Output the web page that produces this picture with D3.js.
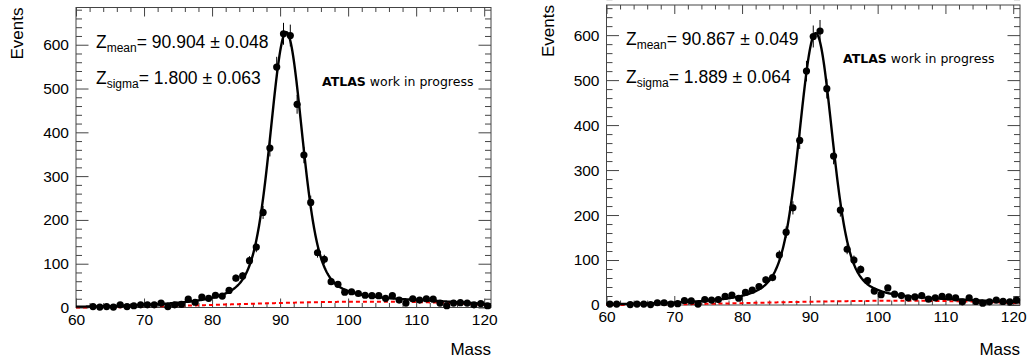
<!DOCTYPE html>
<html>
<head>
<meta charset="utf-8">
<script src="https://cdn.jsdelivr.net/npm/d3@7"></script>
<style>
  html, body { margin: 0; padding: 0; background: #fff; }
  svg { display: block; }
</style>
</head>
<body>
<script>
// Dimuon invariant mass, 1 GeV bins
const binCenters = [
  60.5, 61.5, 62.5, 63.5, 64.5, 65.5, 66.5, 67.5, 68.5, 69.5,
  70.5, 71.5, 72.5, 73.5, 74.5, 75.5, 76.5, 77.5, 78.5, 79.5,
  80.5, 81.5, 82.5, 83.5, 84.5, 85.5, 86.5, 87.5, 88.5, 89.5,
  90.5, 91.5, 92.5, 93.5, 94.5, 95.5, 96.5, 97.5, 98.5, 99.5,
  100.5, 101.5, 102.5, 103.5, 104.5, 105.5, 106.5, 107.5, 108.5, 109.5,
  110.5, 111.5, 112.5, 113.5, 114.5, 115.5, 116.5, 117.5, 118.5, 119.5,
  120.5
];

// Event counts per bin (null = empty bin, not drawn)
const eventsLeft = [
  null, null, 2, 1, 2, 1, 6, 2, 4, 6,
  6, 6, 10, 2, 6, 7, 19, 12, 24, 21,
  28, 26, 39, 67, 72, 107, 138, 217, 364, 549,
  625, 621, 464, 348, 240, 125, 110, 59, 53, 35,
  36, 32, 28, 27, 27, 21, 27, 17, 10, 20,
  17, 20, 19, 10, 4, 10, 11, 10, 6, 9,
  4
];
const eventsRight = [
  2, 2, null, 1, 2, 2, 1, 5, 5, 2,
  3, 10, 9, 2, 12, 11, 12, 19, 22, 15,
  28, 33, 41, 56, 61, 111, 162, 216, 366, 520,
  597, 609, 481, 331, 211, 124, 100, 79, 54, 31,
  23, 38, 24, 21, 16, 18, 21, 13, 16, 19,
  18, 16, 7, 16, 8, 4, 7, 11, 8, 7,
  11
];

// Axis ticks
const xTickValues = [60, 70, 80, 90, 100, 110, 120];
const xMinorValues = [62, 64, 66, 68, 72, 74, 76, 78, 82, 84, 86, 88, 92, 94, 96, 98, 102, 104, 106, 108, 112, 114, 116, 118];
const yTickValues = [0, 100, 200, 300, 400, 500, 600];
const yMinorValues = [20, 40, 60, 80, 120, 140, 160, 180, 220, 240, 260, 280, 320, 340, 360, 380, 420, 440, 460, 480, 520, 540, 560, 580, 620, 640, 660, 680];
const xDomain = [60, 121];
const yMaxValues = [685, 667];

// Fit results: Breit-Wigner (fixed Z width) convolved with a Gaussian, plus a cubic background
const fitMean = [90.904, 90.867];
const fitMeanErr = [0.048, 0.049];
const fitSigma = [1.800, 1.889];
const fitSigmaErr = [0.063, 0.064];
const zWidth = 2.4952;
const signalPeak = [618, 597];
const bkgQuad = [0.0212, 0.015];
const bkgCubic = [-0.000325, -0.00023];

// Panel frames
const panels = [
  { x0: 76, x1: 491, y0: 7.5, y1: 307.5, evX: 23, statX: 96, statY1: 47.5, statY2: 83.5, atlasX: 322, atlasY: 86 },
  { x0: 606.5, x1: 1020, y0: 5, y1: 305, evX: 554, statX: 626, statY1: 44.5, statY2: 82.5, atlasX: 843, atlasY: 63 }
];

const W = 1033, H = 364;
const svg = d3.select("body").append("svg").attr("width", W).attr("height", H);
const mainFont = "'Liberation Sans', Arial, Helvetica, sans-serif";
const axisColor = "#444";

function voigtRaw(x, mu, sigma, gamma) {
  let s = 0;
  const step = 0.02;
  for (let u = -6 * sigma; u <= 6 * sigma; u += step) {
    const d = x - mu - u;
    s += Math.exp(-u * u / (2 * sigma * sigma)) / (d * d + gamma * gamma);
  }
  return s;
}

function drawPanel(i, counts) {
  const p = panels[i];
  const x = d3.scaleLinear().domain(xDomain).range([p.x0, p.x1]);
  const y = d3.scaleLinear().domain([0, yMaxValues[i]]).range([p.y1, p.y0]);
  const g = svg.append("g");

  // axes: ticks point into the frame on all four sides
  const xMaj = 9, xMin = 4.5, yMaj = 12.5, yMin = 6;
  function addAxis(axis, tx, ty, labels) {
    const a = g.append("g").attr("transform", `translate(${tx},${ty})`).call(axis);
    a.select(".domain").remove();
    a.selectAll(".tick line").attr("stroke", axisColor);
    if (!labels) a.selectAll(".tick text").remove();
    return a;
  }
  const bx = addAxis(d3.axisBottom(x).tickValues(xTickValues).tickSize(-xMaj).tickPadding(6).tickFormat(d3.format("d")), 0, p.y1, true);
  bx.selectAll(".tick text").attr("font-family", mainFont).attr("font-size", 15.5).attr("fill", "#000");
  addAxis(d3.axisBottom(x).tickValues(xMinorValues).tickSize(-xMin).tickFormat(""), 0, p.y1, false);
  addAxis(d3.axisTop(x).tickValues(xTickValues).tickSize(-xMaj).tickFormat(""), 0, p.y0, false);
  addAxis(d3.axisTop(x).tickValues(xMinorValues).tickSize(-xMin).tickFormat(""), 0, p.y0, false);
  const ly = addAxis(d3.axisLeft(y).tickValues(yTickValues).tickSize(-yMaj).tickPadding(7).tickFormat(d3.format("d")), p.x0, 0, true);
  ly.selectAll(".tick text").attr("font-family", mainFont).attr("font-size", 15.5).attr("fill", "#000");
  addAxis(d3.axisLeft(y).tickValues(yMinorValues).tickSize(-yMin).tickFormat(""), p.x0, 0, false);
  addAxis(d3.axisRight(y).tickValues(yTickValues).tickSize(-yMaj).tickFormat(""), p.x1, 0, false);
  addAxis(d3.axisRight(y).tickValues(yMinorValues).tickSize(-yMin).tickFormat(""), p.x1, 0, false);

  // frame
  g.append("rect")
    .attr("x", p.x0).attr("y", p.y0)
    .attr("width", p.x1 - p.x0).attr("height", p.y1 - p.y0)
    .attr("fill", "none").attr("stroke", axisColor).attr("stroke-width", 1);

  // fit curves
  const gamma = zWidth / 2;
  const norm = voigtRaw(fitMean[i], fitMean[i], fitSigma[i], gamma);
  const bkg = m => { const t = m - xDomain[0]; return bkgQuad[i] * t * t + bkgCubic[i] * t * t * t; };
  const grid = d3.range(xDomain[0], xDomain[1] + 1e-9, 0.1);
  const total = grid.map(m => [m, signalPeak[i] * voigtRaw(m, fitMean[i], fitSigma[i], gamma) / norm + bkg(m)]);
  const bgPts = grid.map(m => [m, bkg(m)]);
  const line = d3.line().x(d => x(d[0])).y(d => y(d[1]));

  g.append("path").datum(bgPts).attr("d", line)
    .attr("fill", "none").attr("stroke", "#ff0000").attr("stroke-width", 2).attr("stroke-dasharray", "4,3");
  g.append("path").datum(total).attr("d", line)
    .attr("fill", "none").attr("stroke", "#000").attr("stroke-width", 2.4);

  // data points with Poisson error bars
  const pts = binCenters.map((m, k) => ({ m, n: counts[k] })).filter(d => d.n !== null);
  g.selectAll(".err").data(pts).enter().append("line")
    .attr("x1", d => x(d.m)).attr("x2", d => x(d.m))
    .attr("y1", d => y(d.n - Math.sqrt(d.n))).attr("y2", d => y(d.n + Math.sqrt(d.n)))
    .attr("stroke", "#000").attr("stroke-width", 1);
  g.selectAll(".pt").data(pts).enter().append("circle")
    .attr("cx", d => x(d.m)).attr("cy", d => y(d.n)).attr("r", 3.6).attr("fill", "#000");

  // axis titles
  g.append("text").attr("x", p.x1).attr("y", 355).attr("text-anchor", "end")
    .attr("font-family", mainFont).attr("font-size", 17).text("Mass");
  g.append("text").attr("transform", `translate(${p.evX},${p.y0}) rotate(-90)`).attr("text-anchor", "end")
    .attr("font-family", mainFont).attr("font-size", 17).text("Events");

  // fit results
  function statLine(yy, sub, val, err) {
    const t = g.append("text").attr("x", p.statX).attr("y", yy)
      .attr("font-family", mainFont).attr("font-size", 17.5).attr("fill", "#000");
    t.append("tspan").text("Z");
    t.append("tspan").attr("dy", 4).attr("font-size", 12).text(sub);
    t.append("tspan").attr("dy", -4).text(`= ${val.toFixed(3)} \u00B1 ${err.toFixed(3)}`);
  }
  statLine(p.statY1, "mean", fitMean[i], fitMeanErr[i]);
  statLine(p.statY2, "sigma", fitSigma[i], fitSigmaErr[i]);

  const at = g.append("text").attr("x", p.atlasX).attr("y", p.atlasY)
    .attr("font-family", "'DejaVu Sans', Verdana, sans-serif").attr("font-size", 12.5).attr("fill", "#000");
  at.append("tspan").attr("font-weight", "bold").text("ATLAS");
  at.append("tspan").text(" work in progress");
}

drawPanel(0, eventsLeft);
drawPanel(1, eventsRight);
</script>
</body>
</html>
